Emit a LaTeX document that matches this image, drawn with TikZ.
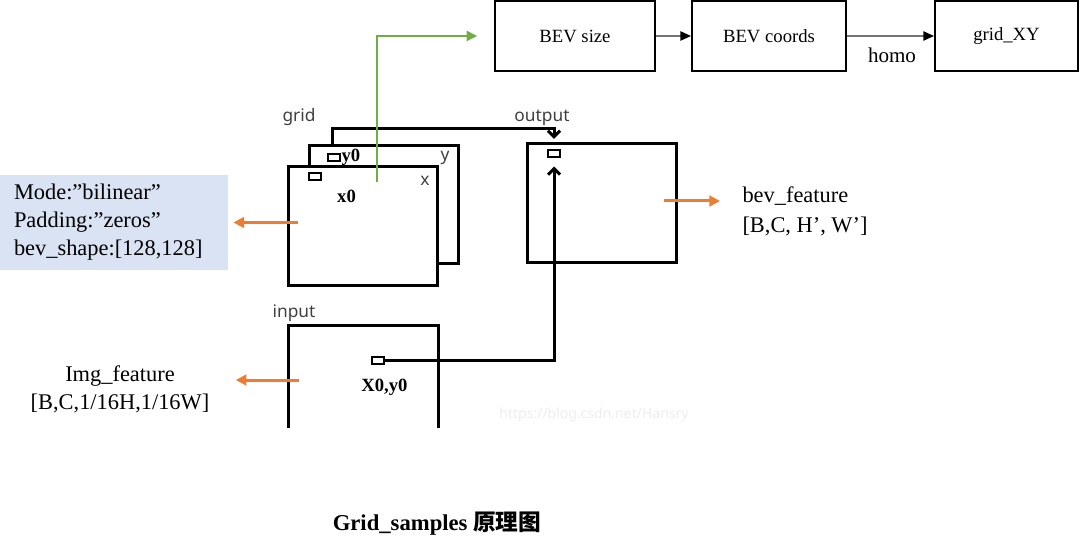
\documentclass[tikz,border=0pt]{standalone}
\usepackage{fontspec}
\setmainfont{Liberation Serif}
\newfontfamily\uisans{Noto Sans}
\newfontfamily\cjk{Noto Sans CJK SC}
\usetikzlibrary{arrows.meta}

\definecolor{paramblue}{RGB}{218,227,243}
\definecolor{arroworange}{RGB}{237,125,49}
\definecolor{arrowgreen}{RGB}{112,173,71}
\definecolor{labelgray}{RGB}{64,64,64}

\tikzset{every picture/.style={line width=0.75pt}}
\tikzset{
  topbox/.style={draw, line width=1.5pt, minimum height=52.5pt, inner sep=0pt, font=\fontsize{14}{16}\selectfont},
  mapbox/.style={draw, fill=white, line width=2.25pt, minimum width=111.75pt, minimum height=88.5pt, inner sep=0pt},
  cell/.style={draw, line width=1.5pt, minimum width=9pt, minimum height=5.25pt, inner sep=0pt},
  wire/.style={line width=2.25pt, -{Straight Barb[length=4.5pt,width=9pt]}},
  flowarrow/.style={draw=black!55, line width=1pt, -{Triangle[length=8pt,width=7pt,color=black]}},
  orarrow/.style={draw=arroworange, line width=2.25pt, -{Triangle[length=8pt,width=8pt]}},
  uilabel/.style={text=labelgray, font=\uisans\fontsize{13}{15}\selectfont, inner sep=0pt},
  poslabel/.style={font=\bfseries\fontsize{14}{16}\selectfont, inner sep=0pt},
  note/.style={font=\fontsize{16.8}{21}\selectfont, inner sep=0pt},
  parambox/.style={fill=paramblue, minimum width=171pt, minimum height=71.25pt, text width=150pt, align=left, inner sep=0pt, font=\fontsize{16.8}{21}\selectfont}
}

\begin{document}
\begin{tikzpicture}[x=0.75pt,y=0.75pt,yscale=-1,xscale=1]
\path[use as bounding box] (0,0) rectangle (1080,552); %same size as the reference

%Shape: Rectangle [top row]
\node[topbox, minimum width=120pt] (bevsize) at (575,36) {BEV size};
\node[topbox, minimum width=115.5pt] (bevcoords) at (769,36) {BEV coords};
\node[topbox, minimum width=107.25pt] (gridxy) at (1006.5,36) {grid\_XY};
%Straight Lines
\draw[flowarrow] (bevsize.east) -- (bevcoords.west);
\draw[flowarrow] (bevcoords.east) -- (gridxy.west);
% Text Node
\node[note, font=\fontsize{15.8}{18}\selectfont] (homo) at (892,55) {homo};

%Shape: Rectangle [grid, two layers]
\node[mapbox] (gridback) at (383.5,204.5) {};
\coordinate (gridtap) at (332,146);
\node[mapbox] (gridfront) at (362.5,226) {};
%Shape: Rectangle [output]
\node[mapbox] (outbox) at (601.5,203) {};
%Shape: Open box [input]
\coordinate (inleft) at (288,380);
\draw[line width=2.25pt] (288,428) -- (288,325) -- (438,325) -- (438,428);

%Small cells
\node[cell] (cellfront) at (315,177) {};
\node[cell] (celly) at (333.5,158) {};
\node[cell] (cellout) at (554,154) {};
\node[cell] (cellin) at (377.5,360.5) {};
%Straight Lines
\draw[wire, shorten >=8pt] (gridtap) -- ++(0,-17) -| (cellout.north);
\draw[wire, shorten >=6pt] (cellin.east) -| (cellout.south);

%Green arrow to BEV size
\coordinate (greenfoot) at (377,182);
\draw[draw=arrowgreen, line width=1.5pt, -{Triangle[length=8pt,width=7.5pt]}, shorten >=12.5pt] (greenfoot) |- (bevsize.west);

% Text Node
\node[parambox] (params) at (114,222.5) {Mode:”bilinear”\\Padding:”zeros”\\bev\_shape:[128,128]};
\node[note, align=center] (imgfeat) at (120,389) {Img\_feature\\{[B,C,1/16H,1/16W]}};
\node[note, align=left, anchor=west, font=\fontsize{16.8}{22.5}\selectfont] (bevfeat) at (742,211) {bev\_feature\\{[B,C, H’, W’]}};

%Orange arrows
\draw[orarrow, shorten >=3.75pt] ([xshift=8.25pt]gridfront.west |- params.east) -- (params.east);
\draw[orarrow, shorten >=19.5pt] ([xshift=8.25pt]inleft) -- (inleft -| imgfeat.east);
\draw[orarrow, shorten >=16.5pt] ([xshift=-10.5pt]outbox.east |- 0,201) -- (bevfeat.west |- 0,201);

% Text Node
\node[uilabel] (gridlbl) at (299,117) {grid};
\node[uilabel] (ylbl) at (445,158) {y};
\node[uilabel] (xlbl) at (425,181) {x};
\node[uilabel] (outlbl) at (542,118) {output};
\node[uilabel] (inlbl) at (294,313) {input};
\node[poslabel, anchor=west] (y0lbl) at (341,157) {y0};
\node[poslabel] (x0lbl) at (346.5,196) {x0};
\node[poslabel] (x0y0lbl) at (384.5,387) {X0,y0};
\node[text=black!7, font=\uisans\fontsize{10.5}{12}\selectfont] (mark) at (594,415) {https://blog.csdn.net/Hansry};

% Text Node
\node[font=\fontsize{17}{20}\selectfont\bfseries] (title) at (437,524) {Grid\_samples {\cjk\bfseries 原理图}};

\end{tikzpicture}
\end{document}
